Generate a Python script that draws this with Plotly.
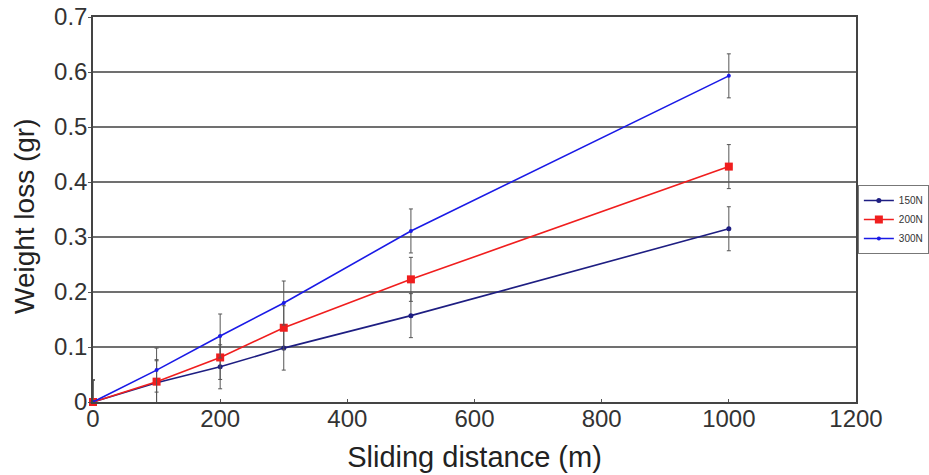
import plotly.graph_objects as go

distance = [0, 100, 200, 300, 500, 1000]
loss_150 = [0.0, 0.035, 0.064, 0.098, 0.157, 0.315]
loss_200 = [0.0, 0.037, 0.081, 0.135, 0.223, 0.428]
loss_300 = [0.0, 0.058, 0.120, 0.180, 0.311, 0.593]
err_plus = [0.04, 0.04, 0.04, 0.04, 0.04, 0.04]
err_minus = [0.0, 0.04, 0.04, 0.04, 0.04, 0.04]
series_names = ["150N", "200N", "300N"]

x_ticks = [0, 200, 400, 600, 800, 1000, 1200]
y_ticks = [0, 0.1, 0.2, 0.3, 0.4, 0.5, 0.6, 0.7]
y_tick_text = ["0", "0.1", "0.2", "0.3", "0.4", "0.5", "0.6", "0.7"]

FONT = "Liberation Sans, Arial, Helvetica, sans-serif"

styles = [
    dict(color="#1e1e82", symbol="circle", size=5),
    dict(color="#f01e1e", symbol="square", size=8),
    dict(color="#1a1ae6", symbol="circle", size=4),
]

fig = go.Figure()
for name, ys, st in zip(series_names, [loss_150, loss_200, loss_300], styles):
    fig.add_trace(go.Scatter(
        x=distance, y=ys, name=name, mode="lines+markers",
        line=dict(color=st["color"], width=1.6),
        marker=dict(color=st["color"], symbol=st["symbol"], size=st["size"]),
        error_y=dict(type="data", array=err_plus, arrayminus=err_minus,
                     symmetric=False, color="#555555", thickness=1, width=2),
        cliponaxis=False,
    ))

fig.update_layout(
    width=929, height=475,
    margin=dict(l=93, r=73, t=17, b=73, autoexpand=False),
    paper_bgcolor="white", plot_bgcolor="white",
    font=dict(family=FONT, color="#333333"),
    showlegend=True,
    legend=dict(
        x=1.0955, y=0.5636, xanchor="right", yanchor="top",
        bgcolor="white", bordercolor="#777777", borderwidth=1,
        font=dict(size=10, family=FONT, color="#333333"),
        tracegroupgap=0, itemwidth=30,
    ),
    annotations=[dict(
        text="Weight loss (gr)", textangle=-90, showarrow=False,
        xref="paper", yref="paper", x=0, y=0.483, xshift=-69,
        xanchor="center", yanchor="middle",
        font=dict(size=28, family=FONT, color="#222222"),
    )],
)

fig.update_xaxes(
    range=[0, 1200], tickvals=x_ticks, ticktext=[str(v) for v in x_ticks],
    showgrid=False, zeroline=False, automargin=False,
    showline=True, linecolor="#444444", linewidth=1.5, mirror=True,
    ticks="inside", ticklen=3, tickcolor="#555555",
    ticklabelstandoff=-6, ticklabeloverflow="allow",
    tickfont=dict(size=24, family=FONT, color="#333333"),
    title=dict(text="Sliding distance (m)", font=dict(size=29, family=FONT, color="#222222"), standoff=16),
)
fig.update_yaxes(
    range=[0, 0.7], tickvals=y_ticks, ticktext=y_tick_text,
    showgrid=True, gridcolor="#707070", gridwidth=1.5, zeroline=False, automargin=False,
    showline=True, linecolor="#444444", linewidth=1.5, mirror=True,
    ticks="outside", ticklen=3, tickcolor="#555555",
    ticklabelstandoff=-4, ticklabeloverflow="allow",
    tickfont=dict(size=24, family=FONT, color="#333333"),
)

fig.write_html("out.html", config={"displayModeBar": False},
               post_script="document.body.style.margin='0';")
